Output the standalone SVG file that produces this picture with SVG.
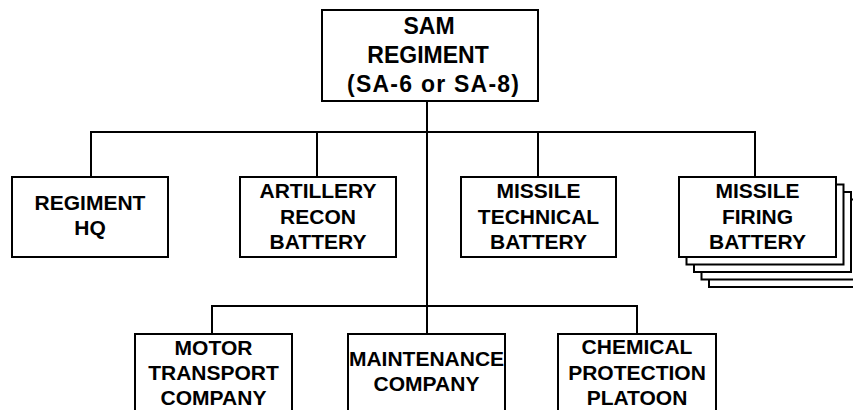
<svg xmlns="http://www.w3.org/2000/svg" width="853" height="410" viewBox="0 0 853 410">
<style>
.box{fill:#fff;stroke:#000;stroke-width:2}
.line{fill:none;stroke:#000;stroke-width:2}
text{font-family:"Liberation Sans",Arial,sans-serif;font-weight:bold;font-size:21px;fill:#000;text-anchor:middle}
.big{font-size:23px}
</style>
<rect width="853" height="410" fill="#fff"/>
<g id="connectors">
<path class="line" d="M427,101 V334"/>
<path class="line" d="M91,177 V132 H755 V177"/>
<path class="line" d="M317,132 V177"/>
<path class="line" d="M538,132 V177"/>
<path class="line" d="M212,334 V306 H637 V334"/>
</g>
<g id="sam-regiment">
<rect class="box" x="322" y="10" width="216" height="91"/>
<text class="big" x="429" y="34">SAM</text>
<text class="big" x="428" y="63">REGIMENT</text>
<text class="big" x="433" y="92" textLength="172" lengthAdjust="spacing">(SA-6 or SA-8)</text>
</g>
<g id="regiment-hq">
<rect class="box" x="12" y="177" width="156" height="80"/>
<text x="90" y="210">REGIMENT</text>
<text x="90" y="235">HQ</text>
</g>
<g id="artillery-recon-battery">
<rect class="box" x="240" y="177" width="156" height="80"/>
<text x="318" y="198">ARTILLERY</text>
<text x="318" y="224">RECON</text>
<text x="318" y="249">BATTERY</text>
</g>
<g id="missile-technical-battery">
<rect class="box" x="461" y="177" width="155" height="80"/>
<text x="538.5" y="198">MISSILE</text>
<text x="538.5" y="224">TECHNICAL</text>
<text x="538.5" y="249">BATTERY</text>
</g>
<g id="missile-firing-battery">
<rect class="box" x="709" y="207" width="157" height="80"/>
<rect class="box" x="701.5" y="199.5" width="157" height="80"/>
<rect class="box" x="694" y="192" width="157" height="80"/>
<rect class="box" x="686.5" y="184.5" width="157" height="80"/>
<rect class="box" x="679" y="177" width="157" height="80"/>
<text x="757.5" y="198">MISSILE</text>
<text x="757.5" y="224">FIRING</text>
<text x="757.5" y="249">BATTERY</text>
</g>
<g id="motor-transport-company">
<rect class="box" x="135" y="334" width="157" height="90"/>
<text x="213.5" y="355">MOTOR</text>
<text x="213.5" y="380">TRANSPORT</text>
<text x="213.5" y="405">COMPANY</text>
</g>
<g id="maintenance-company">
<rect class="box" x="348" y="334" width="157" height="90"/>
<text x="426.5" y="366">MAINTENANCE</text>
<text x="426.5" y="391">COMPANY</text>
</g>
<g id="chemical-protection-platoon">
<rect class="box" x="558" y="334" width="158" height="90"/>
<text x="637" y="354">CHEMICAL</text>
<text x="637" y="380">PROTECTION</text>
<text x="637" y="405">PLATOON</text>
</g>
</svg>
